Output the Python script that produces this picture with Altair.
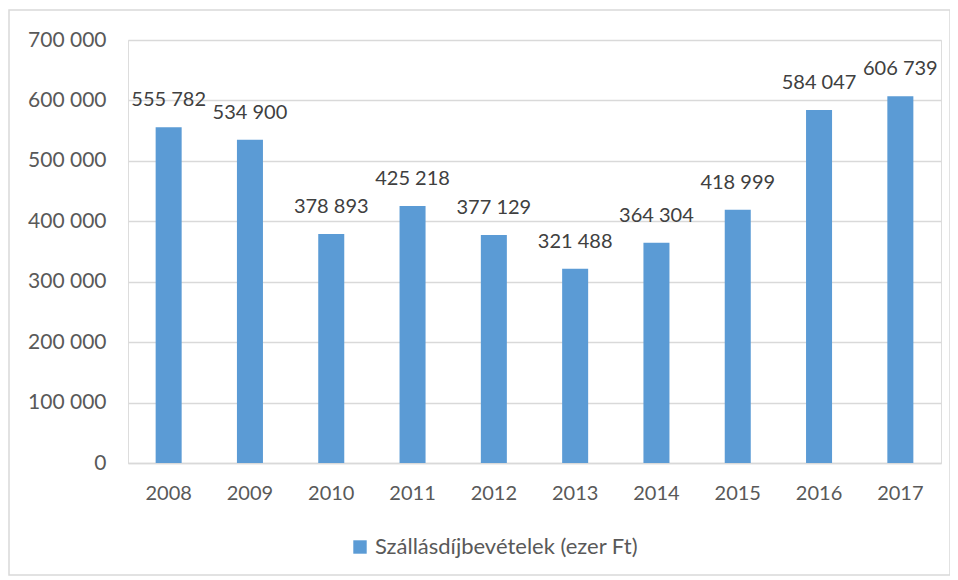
import altair as alt
import pandas as pd

years = ["2008", "2009", "2010", "2011", "2012", "2013", "2014", "2015", "2016", "2017"]
values = [555782, 534900, 378893, 425218, 377129, 321488, 364304, 418999, 584047, 606739]
series_name = "Szállásdíjbevételek (ezer Ft)"
y_ticks = [0, 100000, 200000, 300000, 400000, 500000, 600000, 700000]

df = pd.DataFrame({
    "year": years,
    "value": values,
    "label": [f"{v:,}".replace(",", " ") for v in values],
    "series": [series_name] * len(years),
})

FONT = "Lato"
W, H = 813, 423

base = alt.Chart(df)

border = base.mark_rect(fill=None, stroke="#d9d9d9", strokeWidth=1.5).encode(
    x=alt.value(-119), x2=alt.value(822), y=alt.value(-30), y2=alt.value(535)
).transform_filter("datum.year == '2008'")

bars = base.mark_bar(color="#5B9BD5").encode(
    x=alt.X("year:N", title=None, sort=years,
            scale=alt.Scale(paddingInner=0.68, paddingOuter=0.34),
            axis=alt.Axis(labelAngle=0, labelFont=FONT, labelFontSize=20,
                          labelColor="#595959", labelPadding=20, ticks=False,
                          domainColor="#d9d9d9", domainWidth=1.5, grid=False)),
    y=alt.Y("value:Q", title=None,
            scale=alt.Scale(domain=[0, 700000], nice=False),
            axis=alt.Axis(values=y_ticks, labelFont=FONT, labelFontSize=21,
                          labelColor="#595959", labelPadding=22, ticks=False,
                          domain=False, gridColor="#d9d9d9", gridWidth=1.5,
                          labelExpr="replace(format(datum.value, ','), ',', ' ')")),
    color=alt.Color("series:N",
                    scale=alt.Scale(range=["#5B9BD5"]),
                    legend=alt.Legend(title=None, orient="none", legendX=221, legendY=496,
                                      symbolType="square", symbolSize=180,
                                      symbolStrokeWidth=0, labelFont=FONT,
                                      labelFontSize=22, labelColor="#595959",
                                      labelOffset=4, labelLimit=0)),
)

labels = base.mark_text(font=FONT, fontSize=20, color="#404040",
                        baseline="bottom", dy=-17).encode(
    x=alt.X("year:N", sort=years),
    y="value:Q",
    text="label:N",
)

chart = alt.layer(border, bars, labels).properties(
    width=W, height=H,
    autosize=alt.AutoSizeParams(type="none"),
    padding={"left": 120, "top": 32, "right": 9, "bottom": 117},
).configure_view(stroke=None).configure(background="white")

chart.save("out.html", embed_options={"renderer": "svg", "actions": False})
